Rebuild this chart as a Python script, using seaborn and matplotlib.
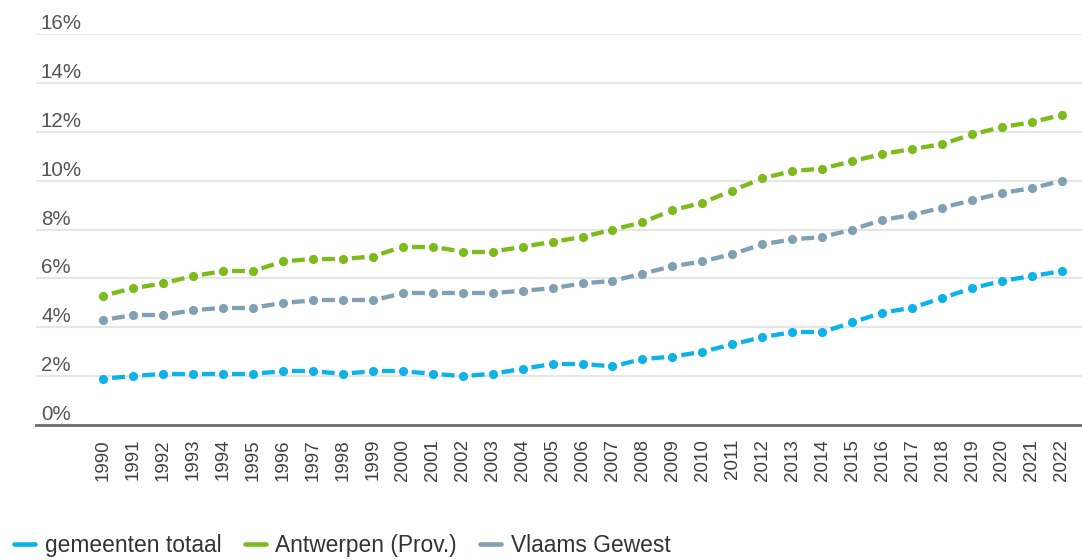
import matplotlib
matplotlib.use("Agg")
import matplotlib.pyplot as plt
from matplotlib.lines import Line2D
from matplotlib.collections import LineCollection
from matplotlib.transforms import ScaledTranslation
import seaborn as sns
import pandas as pd

years = list(range(1990, 2023))
gemeenten_totaal = [1.9, 2.0, 2.1, 2.1, 2.1, 2.1, 2.2, 2.2, 2.1, 2.2, 2.2, 2.1, 2.0, 2.1, 2.3,
                    2.5, 2.5, 2.4, 2.7, 2.8, 3.0, 3.3, 3.6, 3.8, 3.8, 4.2, 4.6, 4.8, 5.2, 5.6,
                    5.9, 6.1, 6.3]
antwerpen_prov = [5.3, 5.6, 5.8, 6.1, 6.3, 6.3, 6.7, 6.8, 6.8, 6.9, 7.3, 7.3, 7.1, 7.1, 7.3,
                  7.5, 7.7, 8.0, 8.3, 8.8, 9.1, 9.6, 10.1, 10.4, 10.5, 10.8, 11.1, 11.3, 11.5,
                  11.9, 12.2, 12.4, 12.7]
vlaams_gewest = [4.3, 4.5, 4.5, 4.7, 4.8, 4.8, 5.0, 5.1, 5.1, 5.1, 5.4, 5.4, 5.4, 5.4, 5.5,
                 5.6, 5.8, 5.9, 6.2, 6.5, 6.7, 7.0, 7.4, 7.6, 7.7, 8.0, 8.4, 8.6, 8.9, 9.2,
                 9.5, 9.7, 10.0]
series_names = ["gemeenten totaal", "Antwerpen (Prov.)", "Vlaams Gewest"]
y_ticks = [0, 2, 4, 6, 8, 10, 12, 14, 16]
y_tick_labels = ["0%", "2%", "4%", "6%", "8%", "10%", "12%", "14%", "16%"]

colors = {"gemeenten totaal": "#0db3e6",
          "Antwerpen (Prov.)": "#7dba1c",
          "Vlaams Gewest": "#80a1b3"}

df = pd.DataFrame({
    "jaar": years * 3,
    "waarde": gemeenten_totaal + antwerpen_prov + vlaams_gewest,
    "reeks": [series_names[0]] * len(years) + [series_names[1]] * len(years)
             + [series_names[2]] * len(years),
})

sns.set_theme(style="white")
plt.rcParams["font.family"] = ["Liberation Sans", "DejaVu Sans"]

fig = plt.figure(figsize=(10.82, 5.6), dpi=100)
ax = fig.add_axes([36 / 1082, 1 - 425 / 560, 1 - 36 / 1082, (425 - 34.3) / 560])

LW = 3.1
# draw order: Vlaams Gewest, Antwerpen, gemeenten
for name in [series_names[2], series_names[1], series_names[0]]:
    sub = df[df["reeks"] == name]
    n_before = len(ax.get_lines())
    sns.lineplot(data=sub, x="jaar", y="waarde", ax=ax, color=colors[name],
                 linewidth=LW, marker="o", markersize=6.6, markeredgewidth=0,
                 legend=False, zorder=4)
    line = ax.get_lines()[n_before]
    xy = line.get_xydata()
    line.set_linestyle("None")
    # dashed connector, dash pattern restarted on each segment
    segs = [[tuple(xy[i]), tuple(xy[i + 1])] for i in range(len(xy) - 1)]
    lc = LineCollection(segs, colors=colors[name], linewidths=LW,
                        linestyles=[(4.86, (3.0, 3.95))], capstyle="butt", zorder=3)
    ax.add_collection(lc)

ax.set_xlim(1987.76, 2022.67)
ax.set_ylim(0, 16)
ax.set_xlabel("")
ax.set_ylabel("")

ax.set_xticks(years)
ax.set_xticklabels([str(y) for y in years], rotation=90, fontsize=13.5, color="#404040")
ax.tick_params(axis="x", length=0, pad=10)

ax.set_yticks(y_ticks)
ax.set_yticklabels(y_tick_labels, fontsize=14.8, color="#555555")
ax.tick_params(axis="y", length=0, pad=0)
offset = ScaledTranslation(5 / 100, 5 / 100, fig.dpi_scale_trans)
for lbl in ax.get_yticklabels():
    lbl.set_horizontalalignment("left")
    lbl.set_verticalalignment("baseline")
    lbl.set_transform(lbl.get_transform() + offset)

for yv in y_ticks[1:]:
    ax.axhline(yv, color="#e6e6e6", linewidth=1.5, zorder=1)

for s in ["top", "right", "left"]:
    ax.spines[s].set_visible(False)
ax.spines["bottom"].set_color("#6b6b6b")
ax.spines["bottom"].set_linewidth(2)
ax.grid(False)

handles = [Line2D([0], [0], color=colors[n], linewidth=3.3) for n in series_names]
fig.legend(handles, series_names, loc="center left",
           bbox_to_anchor=(14 / 1082, 1 - 545.5 / 560), ncol=3, frameon=False,
           fontsize=16.4, handlelength=0.93, handletextpad=0.42, columnspacing=1.02,
           borderpad=0, borderaxespad=0, labelcolor="#333333")

fig.savefig("out.png", dpi=100)
